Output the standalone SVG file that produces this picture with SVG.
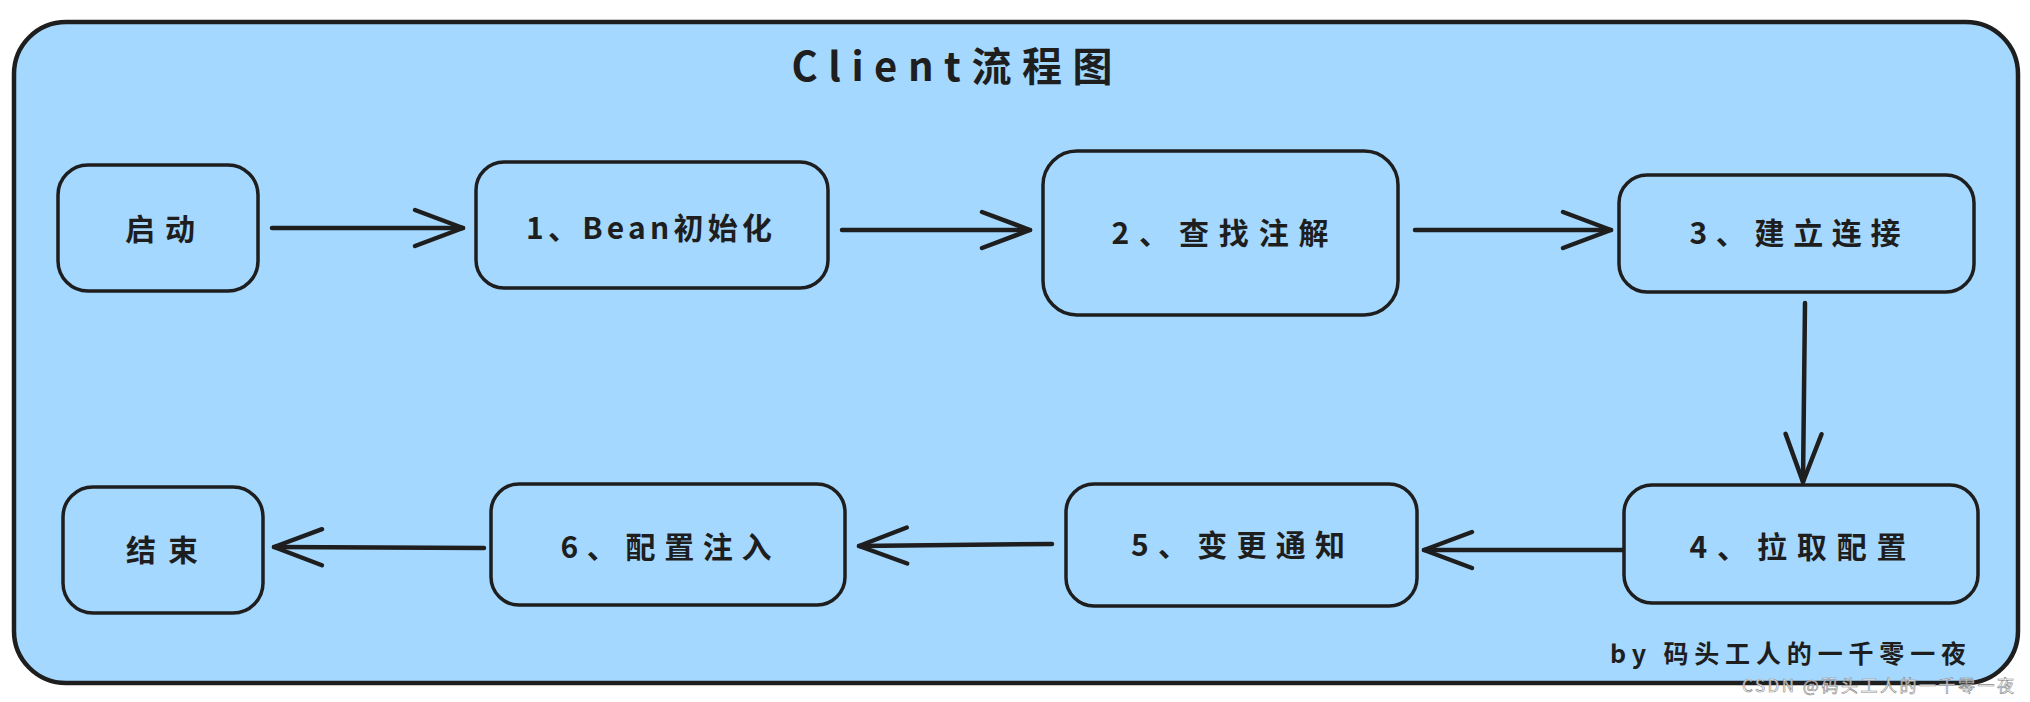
<svg xmlns="http://www.w3.org/2000/svg" width="2030" height="702" viewBox="0 0 2030 702">
  <defs>
    <style>
      .node rect { fill: #a5d8ff; stroke: #1e1e1e; stroke-width: 3.5; }
      .lbl { font-family: "Noto Sans CJK SC", "Liberation Sans", sans-serif; font-size: 30px; font-weight: 700; fill: #1e1e1e; text-anchor: middle; dominant-baseline: central; }
      .conn { fill: none; stroke: #1e1e1e; stroke-width: 4.5; stroke-linecap: round; marker-end: url(#arr); }
    </style>
    <marker id="arr" viewBox="-54 -24 60 48" markerWidth="60" markerHeight="48" refX="0" refY="0" orient="auto" markerUnits="userSpaceOnUse" overflow="visible">
      <path d="M -48 -18 L 0 0 L -48 18" fill="none" stroke="#1e1e1e" stroke-width="4.5" stroke-linecap="round" stroke-linejoin="round"/>
    </marker>
  </defs>
  <rect width="2030" height="702" fill="#ffffff"/>
  <g id="frame">
    <rect x="14" y="22" width="2004" height="661" rx="52" ry="52" fill="#a5d8ff" stroke="#1e1e1e" stroke-width="4.5"/>
    <text x="952" y="64" class="lbl" style="font-size:40px" textLength="321" lengthAdjust="spacing">Client流程图</text>
  </g>
  <g id="n0" class="node"><rect x="58" y="165" width="200" height="126" rx="30"/><text class="lbl" x="160" y="227" textLength="70" lengthAdjust="spacing">启动</text></g>
  <g id="n1" class="node"><rect x="476" y="162" width="352" height="126" rx="28"/><text class="lbl" x="649" y="226" textLength="246" lengthAdjust="spacing">1、Bean初始化</text></g>
  <g id="n2" class="node"><rect x="1043" y="151" width="355" height="164" rx="34"/><text class="lbl" x="1220" y="231" textLength="217" lengthAdjust="spacing">2、查找注解</text></g>
  <g id="n3" class="node"><rect x="1619" y="175" width="355" height="117" rx="28"/><text class="lbl" x="1795" y="231" textLength="211" lengthAdjust="spacing">3、建立连接</text></g>
  <g id="n4" class="node"><rect x="1624" y="485" width="354" height="118" rx="28"/><text class="lbl" x="1798" y="545" textLength="217" lengthAdjust="spacing">4、拉取配置</text></g>
  <g id="n5" class="node"><rect x="1066" y="484" width="351" height="122" rx="28"/><text class="lbl" x="1238" y="543" textLength="214" lengthAdjust="spacing">5、变更通知</text></g>
  <g id="n6" class="node"><rect x="491" y="484" width="354" height="121" rx="28"/><text class="lbl" x="666" y="545" textLength="211" lengthAdjust="spacing">6、配置注入</text></g>
  <g id="n7" class="node"><rect x="63" y="487" width="200" height="126" rx="30"/><text class="lbl" x="162" y="548" textLength="72" lengthAdjust="spacing">结束</text></g>
  <g id="connectors">
    <path class="conn" d="M 272 228 L 463 228"/>
    <path class="conn" d="M 842 230 L 1030 230"/>
    <path class="conn" d="M 1415 230 L 1611 230"/>
    <path class="conn" d="M 1805 303 L 1803 482"/>
    <path class="conn" d="M 1623 550 L 1424 550"/>
    <path class="conn" d="M 1052 544 L 859 546"/>
    <path class="conn" d="M 484 548 L 274 547"/>
  </g>
  <g id="signature">
    <text class="lbl" x="1788" y="652" style="font-size:25px" textLength="356" lengthAdjust="spacing">by 码头工人的一千零一夜</text>
  </g>
  <g id="watermark">
    <text x="1878" y="684" font-family="Noto Sans CJK SC, Liberation Sans, sans-serif" font-size="17" fill="#ffffff" fill-opacity="0.8" stroke="#8a8a8a" stroke-width="0.6" text-anchor="middle" dominant-baseline="central" textLength="272" lengthAdjust="spacing">CSDN @码头工人的一千零一夜</text>
  </g>
</svg>
